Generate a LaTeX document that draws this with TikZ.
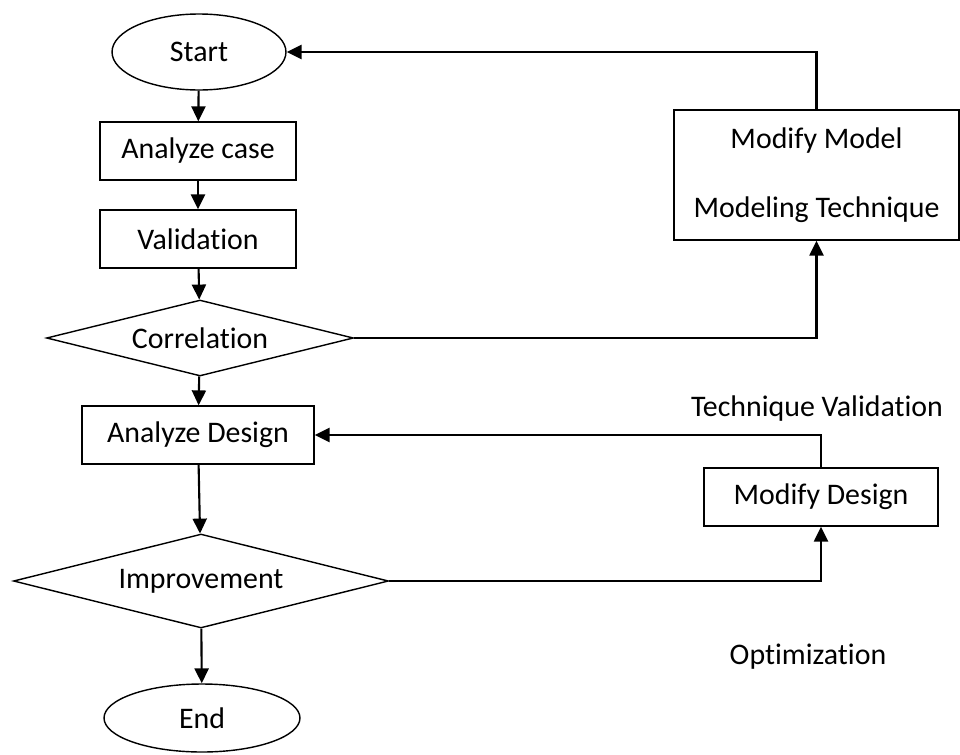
\documentclass[tikz,border=0pt]{standalone}
\usepackage{fontspec}
\setmainfont{Carlito}[Ligatures=NoCommon]
\usetikzlibrary{shapes.geometric,arrows.meta}

\tikzset{
	box/.style={shape=rectangle,draw=black,line width=0.8pt,inner sep=0pt},
	term/.style={shape=ellipse,draw=black,line width=0.8pt,inner sep=0pt},
	decide/.style={shape=diamond,draw=black,line width=0.8pt,inner sep=0pt,aspect=4},
	flow/.style={line width=1.2pt,-{Triangle[length=8.5pt,width=8pt]}}
}

\begin{document}
\begin{tikzpicture}[x=0.02cm,y=-0.02cm,font=\fontsize{17}{20}\selectfont]
	\useasboundingbox (0,0) rectangle (960,754);

	\node[term,minimum width=3.48cm,minimum height=1.52cm] (start) at (199,52) {Start};
	\node[box,minimum width=3.92cm,minimum height=1.16cm] (case) at (198,151) {Analyze case};
	\node[box,minimum width=3.92cm,minimum height=1.16cm] (valid) at (198,239) {Validation};
	\node[decide,minimum width=6.14cm,minimum height=1.52cm] (corr) at (200,338) {Correlation};
	\node[box,minimum width=4.64cm,minimum height=1.16cm] (design) at (198,435) {Analyze Design};
	\node[decide,minimum width=7.5cm,minimum height=1.88cm] (impr) at (201,581) {Improvement};
	\node[term,minimum width=3.92cm,minimum height=1.36cm] (end) at (202,718) {End};
	\node[box,minimum width=5.7cm,minimum height=2.6cm,align=center] (model) at (816.5,175) {Modify Model\\[19pt]Modeling Technique};
	\node[box,minimum width=4.68cm,minimum height=1.16cm] (mdesign) at (821,497) {Modify Design};
	\node (techval) at (817,409) {Technique Validation};
	\node (optim) at (808,657) {Optimization};

	\draw[flow] (start) -- (case);
	\draw[flow] (case) -- (valid);
	\draw[flow] (valid) -- (corr);
	\draw[flow] (corr) -- (design);
	\draw[flow] (design) -- (impr);
	\draw[flow] (impr) -- (end);
	\draw[flow] (corr.east) -| (model.south);
	\draw[flow] (model.north) |- (start.east);
	\draw[flow] (impr.east) -| (mdesign.south);
	\draw[flow] (mdesign.north) |- (design.east);
\end{tikzpicture}
\end{document}
